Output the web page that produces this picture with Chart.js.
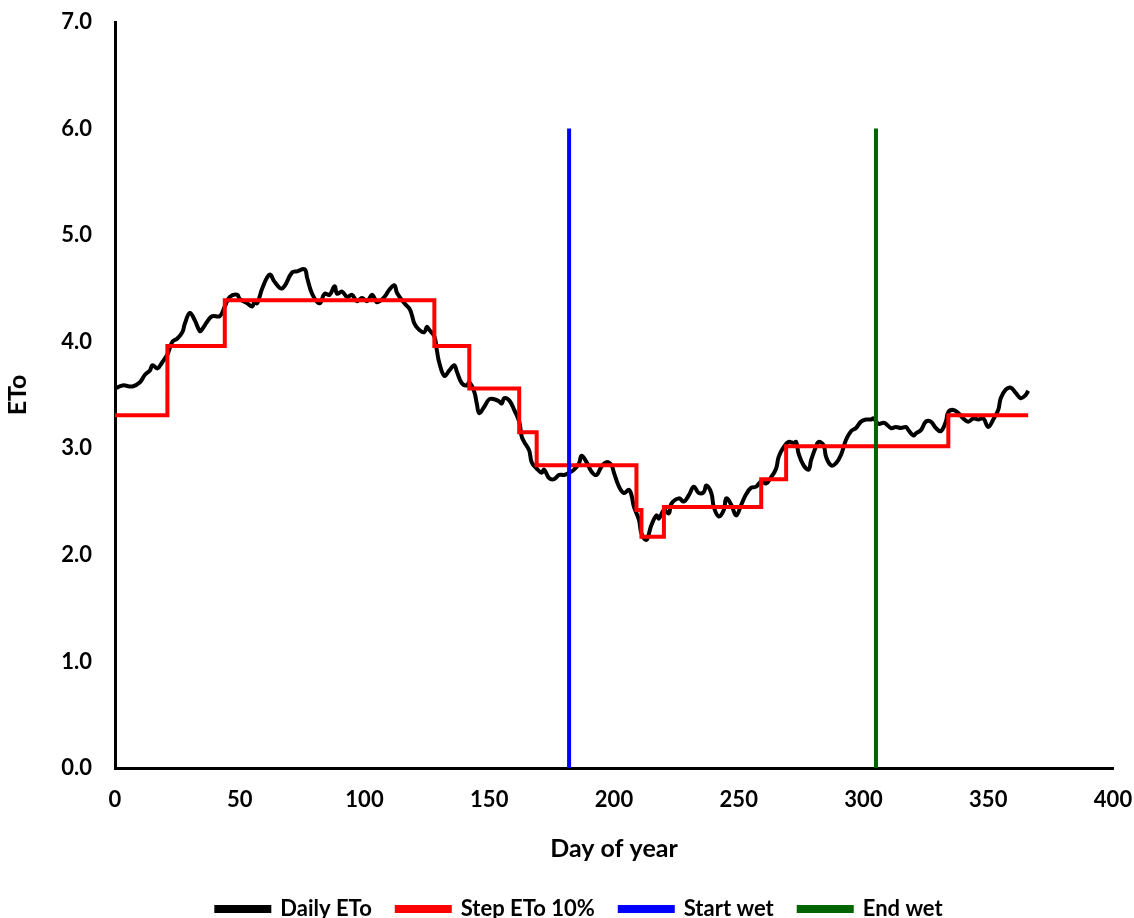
<!DOCTYPE html>
<html>
<head>
<meta charset="utf-8">
<script src="https://cdn.jsdelivr.net/npm/chart.js@4/dist/chart.umd.min.js"></script>
<style>
  html, body { margin: 0; padding: 0; background: #fff; overflow: hidden; }
  #wrap { position: relative; width: 1134px; height: 930px; }
</style>
</head>
<body>
<div id="wrap"><canvas id="chart"></canvas></div>
<script>
// Daily reference evapotranspiration (mm/day) by day of year
const days = [0,3,7,10,12,14,15,17,19,21,23,25,27,28,30,32,34,35,37,39,42,44,46,49,50,53,55,56,57,59,62,64,67,71,73,76,77,79,82,84,86,88,89,91,93,95,97,99,101,103,104,105,108,110,112,113,116,118,119,120,122,124,125,126,128,129,130,132,134,136,137,139,141,142,144,145,146,148,150,152,154,155,156,158,160,162,163,164,166,167,169,171,172,174,176,178,180,182,184,186,187,189,191,193,195,197,199,200,202,204,206,207,208,210,211,213,214,215,217,218,220,222,223,226,228,230,232,234,236,237,239,240,242,244,245,247,249,251,253,255,257,259,261,263,265,266,268,270,272,273,274,276,278,279,281,282,284,285,287,289,291,293,295,297,299,301,303,304,306,308,309,311,313,315,317,318,320,321,323,325,327,329,331,333,334,336,338,340,342,344,346,348,350,352,354,355,357,359,361,363,365,366];
const dailyEto = [3.56,3.59,3.58,3.62,3.69,3.73,3.78,3.75,3.81,3.88,4.00,4.03,4.09,4.17,4.27,4.20,4.10,4.12,4.19,4.24,4.24,4.33,4.42,4.44,4.40,4.36,4.33,4.38,4.36,4.50,4.63,4.56,4.50,4.65,4.66,4.68,4.60,4.45,4.36,4.45,4.44,4.52,4.45,4.47,4.42,4.44,4.38,4.41,4.38,4.44,4.41,4.37,4.42,4.49,4.53,4.46,4.36,4.31,4.25,4.17,4.11,4.09,4.14,4.11,4.05,3.92,3.80,3.68,3.73,3.78,3.72,3.61,3.59,3.62,3.53,3.42,3.33,3.39,3.46,3.46,3.44,3.42,3.47,3.45,3.36,3.25,3.11,3.06,2.98,2.87,2.81,2.77,2.80,2.72,2.71,2.75,2.75,2.77,2.80,2.86,2.93,2.87,2.78,2.75,2.83,2.87,2.84,2.77,2.64,2.58,2.61,2.56,2.45,2.33,2.20,2.14,2.20,2.28,2.37,2.34,2.42,2.39,2.48,2.53,2.50,2.56,2.64,2.58,2.59,2.65,2.58,2.45,2.36,2.42,2.53,2.47,2.37,2.47,2.57,2.63,2.64,2.69,2.67,2.73,2.81,2.92,3.01,3.06,3.05,3.06,2.95,2.84,2.80,2.89,3.02,3.06,3.03,2.92,2.84,2.86,2.94,3.08,3.16,3.19,3.25,3.27,3.27,3.28,3.23,3.24,3.23,3.19,3.20,3.19,3.20,3.17,3.12,3.14,3.17,3.25,3.25,3.19,3.16,3.25,3.34,3.36,3.33,3.28,3.25,3.28,3.27,3.28,3.20,3.27,3.36,3.47,3.55,3.57,3.52,3.47,3.50,3.54];

// Stepped ETo (10% bands): day where each level starts, and its value
const stepDays = [0,21,44,128,142,162,169,209,211,220,259,269,334,366];
const stepEto = [3.31,3.96,4.39,3.96,3.56,3.15,2.84,2.42,2.17,2.45,2.71,3.02,3.31,3.31];

// Wet season markers
const startWetDay = 182;
const endWetDay = 305;
const markerTop = 6.0;

const seriesNames = ['Daily ETo', 'Step ETo 10%', 'Start wet', 'End wet'];
const xTitle = 'Day of year';
const yTitle = 'ETo';

const FONT = 'Lato, "Open Sans", sans-serif';

const pts = (xs, ys) => xs.map((x, i) => ({ x: x, y: ys[i] }));

// Nudge the legend row to the right so it sits under the middle of the plot
const legendOffset = {
  id: 'legendOffset',
  afterLayout(chart) {
    const lg = chart.legend;
    if (lg) { lg.left += 23; lg.right += 23; }
  }
};

new Chart(document.getElementById('chart'), {
  type: 'line',
  plugins: [legendOffset],
  data: {
    datasets: [
      {
        label: seriesNames[0],
        data: pts(days, dailyEto),
        borderColor: '#000000',
        backgroundColor: '#000000',
        borderWidth: 4,
        pointRadius: 0,
        tension: 0.4,
        order: 4
      },
      {
        label: seriesNames[1],
        data: pts(stepDays, stepEto),
        borderColor: '#FF0000',
        backgroundColor: '#FF0000',
        borderWidth: 4,
        pointRadius: 0,
        stepped: 'before',
        order: 3
      },
      {
        label: seriesNames[2],
        data: [{ x: startWetDay, y: 0 }, { x: startWetDay, y: markerTop }],
        borderColor: '#0000FF',
        backgroundColor: '#0000FF',
        borderWidth: 4,
        pointRadius: 0,
        order: 2
      },
      {
        label: seriesNames[3],
        data: [{ x: endWetDay, y: 0 }, { x: endWetDay, y: markerTop }],
        borderColor: '#006400',
        backgroundColor: '#006400',
        borderWidth: 4,
        pointRadius: 0,
        order: 1
      }
    ]
  },
  options: {
    responsive: true,
    maintainAspectRatio: false,
    animation: false,
    layout: { padding: { left: 0, right: 21, top: 22, bottom: 0 } },
    plugins: {
      tooltip: { enabled: false },
      legend: {
        position: 'bottom',
        labels: {
          sort: (a, b) => a.datasetIndex - b.datasetIndex,
          boxWidth: 53,
          boxHeight: 4,
          padding: 25,
          color: '#000',
          font: { family: FONT, size: 22, weight: 'bold' }
        }
      }
    },
    scales: {
      x: {
        type: 'linear',
        min: 0,
        max: 400,
        afterFit: (s) => { s.height = 105; s.paddingLeft = 0; s.paddingRight = 0; },
        ticks: {
          stepSize: 50,
          padding: 19,
          maxRotation: 0,
          color: '#000',
          font: { family: FONT, size: 22, weight: 'bold' }
        },
        grid: { display: false, drawTicks: false },
        border: { display: true, color: '#000', width: 3 },
        title: {
          display: true,
          text: xTitle,
          color: '#000',
          padding: { top: 0, bottom: 9 },
          font: { family: FONT, size: 25, weight: 'bold' }
        }
      },
      y: {
        type: 'linear',
        min: 0,
        max: 7,
        afterFit: (s) => { s.width = 115; s.paddingTop = 0; s.paddingBottom = 0; },
        ticks: {
          stepSize: 1,
          padding: 23,
          color: '#000',
          font: { family: FONT, size: 22, weight: 'bold' },
          callback: (v) => Number(v).toFixed(1)
        },
        grid: { display: false, drawTicks: false },
        border: { display: true, color: '#000', width: 3 },
        title: {
          display: true,
          text: yTitle,
          color: '#000',
          padding: { top: 3, bottom: 0 },
          font: { family: FONT, size: 25, weight: 'bold' }
        }
      }
    }
  }
});
</script>
</body>
</html>
